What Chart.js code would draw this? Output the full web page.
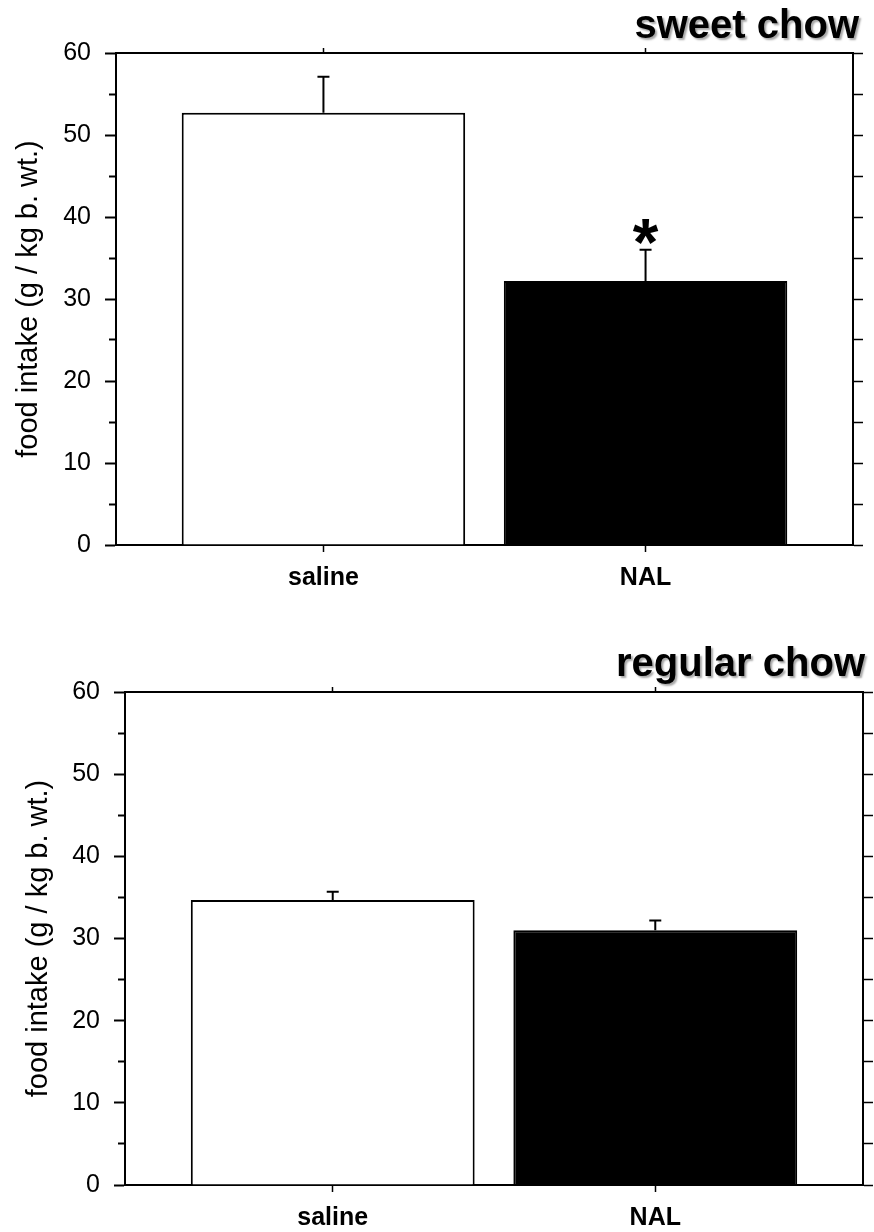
<!DOCTYPE html>
<html>
<head>
<meta charset="utf-8">
<script src="https://cdn.jsdelivr.net/npm/chart.js@4.4.1/dist/chart.umd.min.js"></script>
<style>
  body { margin: 0; background: #fff; }
  canvas { display: block; }
</style>
</head>
<body>
<canvas id="sweetChart" width="874" height="616"></canvas>
<canvas id="regularChart" width="874" height="616"></canvas>
<script>
// dati
var categories = ['saline', 'NAL'];
var sweetMeans = [52.7, 32.2];
var sweetErrors = [4.4, 3.8];
var sweetStars = ['', '*'];
var regularMeans = [34.7, 31.0];
var regularErrors = [1.0, 1.2];
var regularStars = ['', ''];
var majorTicks = [0, 10, 20, 30, 40, 50, 60];
var minorTicks = [5, 15, 25, 35, 45, 55];
var barColors = ['#ffffff', '#000000'];
var yTitle = 'food intake (g / kg b. wt.)';

var FONT = "'Liberation Sans', Arial, sans-serif";

// barre d'errore e asterisco
var errorBarPlugin = {
  id: 'errorBars',
  afterDatasetsDraw: function(chart, args, opts) {
    var ctx = chart.ctx;
    var xs = chart.scales.x;
    var ys = chart.scales.y;
    var data = chart.data.datasets[0].data;
    ctx.save();
    ctx.strokeStyle = '#000';
    ctx.lineWidth = 2;
    for (var i = 0; i < data.length; i++) {
      var x = xs.getPixelForValue(data[i].x);
      var y0 = ys.getPixelForValue(data[i].y);
      var y1 = ys.getPixelForValue(data[i].y + opts.errors[i]);
      ctx.beginPath();
      ctx.moveTo(x, y0);
      ctx.lineTo(x, y1);
      ctx.moveTo(x - 6, y1);
      ctx.lineTo(x + 6, y1);
      ctx.stroke();

      if (opts.stars[i]) {
        ctx.font = 'bold 100px ' + FONT;
        var m = ctx.measureText(opts.stars[i]);
        var h = m.actualBoundingBoxAscent + m.actualBoundingBoxDescent;
        var size = 100 * 25 / h;
        ctx.font = 'bold ' + size + 'px ' + FONT;
        m = ctx.measureText(opts.stars[i]);
        var cy = y1 - 18;
        ctx.fillStyle = '#000';
        ctx.textAlign = 'center';
        ctx.textBaseline = 'alphabetic';
        ctx.fillText(opts.stars[i], x, cy + (m.actualBoundingBoxAscent - m.actualBoundingBoxDescent) / 2);
      }
    }
    ctx.restore();
  }
};

// titolo in alto a destra con ombra
var panelTitlePlugin = {
  id: 'panelTitle',
  afterDraw: function(chart, args, opts) {
    var ctx = chart.ctx;
    ctx.save();
    ctx.font = 'bold 40px ' + FONT;
    ctx.textAlign = 'right';
    ctx.textBaseline = 'alphabetic';
    ctx.shadowColor = 'rgba(0,0,0,0.35)';
    ctx.shadowOffsetX = 2;
    ctx.shadowOffsetY = 2;
    ctx.shadowBlur = 2;
    ctx.fillStyle = '#000';
    ctx.fillText(opts.text, chart.chartArea.right + opts.dx, opts.y);
    ctx.restore();
  }
};

function catPoints(means) {
  var pts = [];
  for (var i = 0; i < categories.length; i++) {
    pts.push({ x: i + 1, y: means[i] });
  }
  return pts;
}

function drawPanel(id, title, means, errors, stars, box) {
  var ctx = document.getElementById(id).getContext('2d');
  var W = 874, H = 616;
  var xMin = 1 - 0.644, xMax = categories.length + 0.644;

  var chart = new Chart(ctx, {
    type: 'bar',
    data: {
      datasets: [{
        data: catPoints(means),
        backgroundColor: barColors,
        borderColor: '#000',
        borderWidth: 2,
        borderSkipped: 'bottom',
        barPercentage: 0.88,
        categoryPercentage: 1.0,
        xAxisID: 'x',
        yAxisID: 'y'
      }]
    },
    options: {
      responsive: false,
      animation: false,
      layout: { padding: 0 },
      plugins: {
        legend: { display: false },
        tooltip: { enabled: false },
        errorBars: { errors: errors, stars: stars },
        panelTitle: { text: title, dx: box.titleDx, y: box.titleY }
      },
      scales: {
        x: {
          type: 'linear',
          position: 'bottom',
          offset: false,
          min: xMin,
          max: xMax,
          afterBuildTicks: function(s) {
            s.ticks = categories.map(function(c, i) { return { value: i + 1 }; });
          },
          afterFit: function(s) { s.height = H - box.bottom; },
          ticks: {
            callback: function(v, i) { return categories[i]; },
            color: '#000',
            padding: 11,
            maxRotation: 0,
            font: { family: FONT, size: 25, weight: 'bold' }
          },
          grid: { offset: false, drawOnChartArea: false, color: '#000', tickLength: 7, tickWidth: 1.5 },
          border: { color: '#000', width: 2 }
        },
        xTop: {
          type: 'linear',
          position: 'top',
          offset: false,
          min: xMin,
          max: xMax,
          afterBuildTicks: function(s) {
            s.ticks = categories.map(function(c, i) { return { value: i + 1 }; });
          },
          afterFit: function(s) { s.height = box.top; },
          ticks: { display: false },
          grid: { offset: false, drawOnChartArea: false, color: '#000', tickLength: 5, tickWidth: 1.5 },
          border: { color: '#000', width: 2 }
        },
        y: {
          position: 'left',
          weight: 1,
          min: 0,
          max: 60,
          afterBuildTicks: function(s) {
            s.ticks = majorTicks.map(function(v) { return { value: v }; });
          },
          afterFit: function(s) { s.width = box.left; },
          ticks: {
            color: '#000',
            padding: 14,
            font: { family: FONT, size: 25 }
          },
          title: {
            display: true,
            text: yTitle,
            color: '#000',
            padding: { top: box.yTitlePad, bottom: 0 },
            font: { family: FONT, size: 29 }
          },
          grid: { drawOnChartArea: false, color: '#000', tickLength: 11, tickWidth: 2 },
          border: { color: '#000', width: 2 }
        },
        yMinor: {
          position: 'left',
          weight: 0,
          min: 0,
          max: 60,
          afterBuildTicks: function(s) {
            s.ticks = minorTicks.map(function(v) { return { value: v }; });
          },
          afterFit: function(s) { s.width = 0; },
          ticks: { display: false },
          grid: { drawOnChartArea: false, color: '#000', tickLength: 7, tickWidth: 2 },
          border: { display: false }
        },
        yRight: {
          position: 'right',
          min: 0,
          max: 60,
          afterBuildTicks: function(s) {
            var all = majorTicks.concat(minorTicks).sort(function(a, b) { return a - b; });
            s.ticks = all.map(function(v) { return { value: v }; });
          },
          afterFit: function(s) { s.width = W - box.right; },
          ticks: { display: false },
          grid: { drawOnChartArea: false, color: '#000', tickLength: 10, tickWidth: 1.5 },
          border: { color: '#000', width: 2 }
        }
      }
    },
    plugins: [errorBarPlugin, panelTitlePlugin]
  });
  return chart;
}

function init() {
  drawPanel('sweetChart', 'sweet chow', sweetMeans, sweetErrors, sweetStars,
    { left: 116, right: 853, top: 53, bottom: 545, titleDx: 6, titleY: 38, yTitlePad: 12 });
  drawPanel('regularChart', 'regular chow', regularMeans, regularErrors, regularStars,
    { left: 125, right: 863, top: 76, bottom: 569, titleDx: 2, titleY: 60, yTitlePad: 22 });
}

init();
</script>
</body>
</html>
